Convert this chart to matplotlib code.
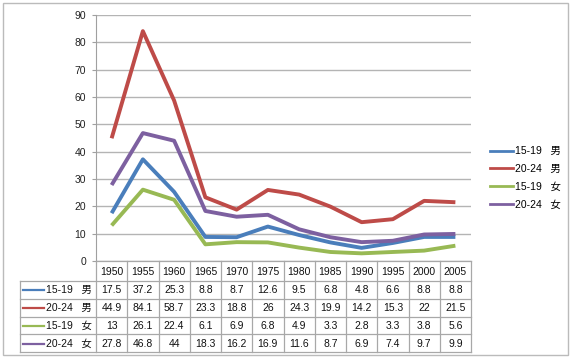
import matplotlib.pyplot as plt
from matplotlib.lines import Line2D
from matplotlib.patches import Rectangle

plt.rcParams['font.family'] = ['Liberation Sans', 'Noto Sans CJK JP', 'DejaVu Sans']

years = ['1950', '1955', '1960', '1965', '1970', '1975', '1980', '1985', '1990', '1995', '2000', '2005']
labels = ['15-19   男', '20-24   男', '15-19   女', '20-24   女']
m_15_19 = [17.5, 37.2, 25.3, 8.8, 8.7, 12.6, 9.5, 6.8, 4.8, 6.6, 8.8, 8.8]
m_20_24 = [44.9, 84.1, 58.7, 23.3, 18.8, 26, 24.3, 19.9, 14.2, 15.3, 22, 21.5]
f_15_19 = [13, 26.1, 22.4, 6.1, 6.9, 6.8, 4.9, 3.3, 2.8, 3.3, 3.8, 5.6]
f_20_24 = [27.8, 46.8, 44, 18.3, 16.2, 16.9, 11.6, 8.7, 6.9, 7.4, 9.7, 9.9]
series = [m_15_19, m_20_24, f_15_19, f_20_24]
colors = ['#4A7EBB', '#BE4B48', '#98B954', '#7D60A0']

W, H = 570, 357
fig = plt.figure(figsize=(W / 100, H / 100), dpi=100)

# pixel geometry
x0, x1 = 96, 471
ytop, ybot = 15, 261
lab_x = 20
row_h = [20, 17.8, 17.8, 17.8, 17.8]

ax = fig.add_axes([x0 / W, 1 - ybot / H, (x1 - x0) / W, (ybot - ytop) / H])
xs = list(range(len(years)))
for s, c, lab in zip(series, colors, labels):
    ax.plot(xs, s, color=c, lw=2.8, solid_joinstyle='round', solid_capstyle='butt', label=lab)
ax.set_xlim(-0.5, len(years) - 0.5)
ax.set_ylim(0, 90)
ax.set_yticks(range(0, 91, 10))
ax.set_xticks([])
ax.yaxis.grid(True, color='#B4B4B4', lw=1)
ax.set_axisbelow(True)
for sp in ['top', 'right', 'bottom']:
    ax.spines[sp].set_visible(False)
ax.spines['left'].set_color('#A0A0A0')
ax.tick_params(axis='y', length=3, color='#A0A0A0', labelsize=7.5, labelcolor='#222222', pad=4)

# legend
handles = [Line2D([], [], color=c, lw=2) for c in colors]
fig.legend(handles, labels, loc='upper left', bbox_to_anchor=(486 / W, 1 - 142 / H),
           frameon=False, fontsize=7.5, handlelength=2.2, handletextpad=0.15,
           labelspacing=0.75, borderaxespad=0)

# table drawn in pixel coordinates
tab = fig.add_axes([0, 0, 1, 1])
tab.set_xlim(0, W)
tab.set_ylim(H, 0)
tab.axis('off')
tab.patch.set_alpha(0)

col_w = (x1 - x0) / len(years)
grid_c = '#A8A8A8'
row_edges = [ybot]
for h in row_h:
    row_edges.append(row_edges[-1] + h)

# horizontal lines
tab.plot([x0, x1], [row_edges[0], row_edges[0]], color=grid_c, lw=0.9)
for yy in row_edges[1:]:
    tab.plot([lab_x, x1], [yy, yy], color=grid_c, lw=0.9)
# vertical lines
for j in range(len(years) + 1):
    xx = x0 + j * col_w
    tab.plot([xx, xx], [row_edges[0], row_edges[-1]], color=grid_c, lw=0.9)
tab.plot([lab_x, lab_x], [row_edges[1], row_edges[-1]], color=grid_c, lw=0.9)

# header
for j, yr in enumerate(years):
    tab.text(x0 + (j + 0.5) * col_w, (row_edges[0] + row_edges[1]) / 2 + 1, yr,
             ha='center', va='center', fontsize=7.5, color='#111111')
# rows
for i, (s, c, lab) in enumerate(zip(series, colors, labels)):
    yc = (row_edges[i + 1] + row_edges[i + 2]) / 2 + 0.5
    tab.plot([23, 44], [yc, yc], color=c, lw=1.6)
    tab.text(45.5, yc, lab, ha='left', va='center', fontsize=7.5, color='#111111')
    for j, v in enumerate(s):
        tab.text(x0 + (j + 0.5) * col_w, yc, f'{v:g}', ha='center', va='center',
                 fontsize=7.5, color='#111111')

# outer border
tab.add_patch(Rectangle((2.5, 2.5), W - 5, H - 5, fill=False, ec='#BBBBBB', lw=1))

fig.savefig('out.png', dpi=100)
